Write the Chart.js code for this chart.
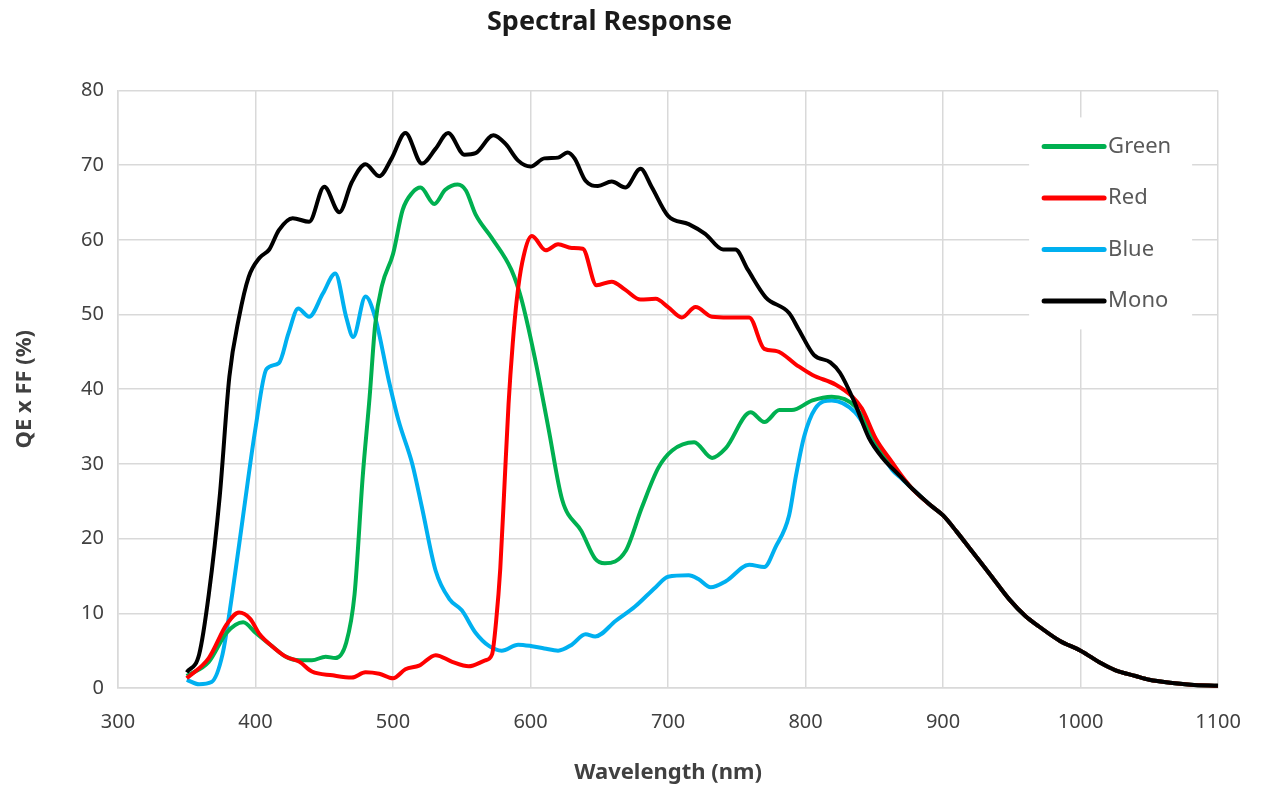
<!DOCTYPE html>
<html>
<head>
<meta charset="utf-8">
<title>Spectral Response</title>
<script src="https://cdn.jsdelivr.net/npm/chart.js@4.4.1/dist/chart.umd.min.js"></script>
<style>
    html, body { margin: 0; padding: 0; background: #fff; }
    #wrap { width: 1263px; height: 793px; }
</style>
</head>
<body>
<div id="wrap"><canvas id="chart" width="1263" height="793"></canvas></div>
<script>
// values (wavelength in nm, QE x FF in %)
const monoX = [350,359,366,374,381,388,395,403,410,417,427,439,450,461,470,480,490,499,509,521,531,540,552,560,573,582,591,600,610,620,627,632,640,649,659,669,680,688,700,715,727,740,749,758,771,788,795,806,818,825,835,846,856,868];
const monoY = [2.1,4.5,12.5,25.7,41.7,49.6,55,57.6,58.7,61.3,62.9,62.4,67.1,63.7,67.7,70.1,68.5,70.9,74.3,70.2,72.2,74.3,71.4,71.6,74,72.8,70.6,69.8,70.9,71,71.7,70.9,67.9,67.2,67.8,67,69.5,67.1,63.2,62.1,60.8,58.7,58.7,56,52.3,50.2,48,44.6,43.6,42.2,38.5,33.5,30.8,28.5];

const greenX = [350,366,379,391,400,412,422,432,441,451,458,466,472,478,483,487,492,500,507,514,520,530,538,547,553,560,572,586,593,603,613,623,637,647,654,669,681,693,703,719,732,742,760,770,781,790,805,819,836,851,863,870];
const greenY = [1.6,3.5,7.4,8.8,7.4,5.6,4.2,3.7,3.7,4.2,4.0,6.1,12.5,28.4,39,48.6,53.9,58.1,64,66.3,67,64.8,66.7,67.4,66.6,63.4,60.2,56,52.3,44.3,34.8,25.2,21,17.3,16.7,18.3,24.2,29.5,31.8,32.9,30.8,32.1,36.9,35.6,37.2,37.2,38.5,39,37.7,33,29.6,28.2];

const redX = [350,366,379,388,396,403,412,422,432,441,456,470,480,490,500,509,519,531,543,555,567,572,575,578,581,584,587,590,594,601,611,620,630,638,648,659,669,680,691,700,710,720,732,744,759,770,779,793,805,822,834,841,851,863,870];
const redY = [1.3,4.0,8.5,10.1,9.3,7.2,5.6,4.2,3.5,2.2,1.7,1.4,2.1,1.9,1.3,2.5,3.0,4.4,3.5,2.9,3.7,4.5,9,16,27,38,46,52,57,60.5,58.6,59.4,58.9,58.8,53.9,54.4,53.3,52,52.1,51,49.6,51,49.7,49.6,49.6,45.4,45.1,43.3,41.9,40.6,39,37.4,33.4,30.2,28.4];

const blueX = [350,359,368,376,383,391,400,408,417,424,431,439,449,458,466,471,480,487,497,504,514,521,531,541,550,560,570,579,591,601,610,620,630,640,647,662,676,691,700,715,722,731,742,759,770,778,788,793,799,807,819,836,851,863,870];
const blueY = [1.1,0.5,0.8,4.5,12.5,23.1,34.8,42.7,43.5,47.5,50.8,49.7,52.8,55.5,49.6,47,52.4,49.6,41.1,35.8,30,24.2,15.7,11.9,10.4,7.4,5.6,5.0,5.8,5.6,5.3,5.0,5.8,7.2,6.9,9.0,10.9,13.5,14.9,15.1,14.6,13.5,14.3,16.5,16.2,18.8,23.1,28.4,33.7,37.4,38.5,36.9,32.6,29.2,28];

// past ~870 nm all four curves lie on top of each other
const tailX = [878,890,900,910,921,935,948,960,970,985,1000,1015,1025,1040,1050,1065,1080,1100];
const tailY = [26.6,24.6,23.1,20.9,18.3,15,11.9,9.6,8.2,6.3,5.0,3.3,2.4,1.6,1.1,0.7,0.45,0.3];

const seriesNames = ["Green", "Red", "Blue", "Mono"];
const seriesColors = ["#00b050", "#ff0000", "#00b0f0", "#000000"];

const yTicks = [0,10,20,30,40,50,60,70,80];
const xTicks = [300,400,500,600,700,800,900,1000,1100];

function points(xs, ys) {
    return xs.concat(tailX).map((x, i) => ({ x: x, y: ys.concat(tailY)[i] }));
}

const legendPlugin = {
    id: "boxLegend",
    afterDraw(chart) {
        const ctx = chart.ctx;
        const area = chart.chartArea;
        const left = area.right - 189;
        const top = area.top + 27;
        ctx.save();
        ctx.fillStyle = "#ffffff";
        ctx.fillRect(left, top, 163, 212);
        ctx.font = "22px 'Noto Sans'";
        ctx.textBaseline = "middle";
        ctx.lineCap = "round";
        seriesNames.forEach((name, i) => {
            const y = top + 29 + i * 51.5;
            ctx.strokeStyle = seriesColors[i];
            ctx.lineWidth = 5;
            ctx.beginPath();
            ctx.moveTo(left + 15, y);
            ctx.lineTo(left + 75, y);
            ctx.stroke();
            ctx.fillStyle = "#595959";
            ctx.fillText(name, left + 79, y);
        });
        ctx.restore();
    }
};

const drawOrder = { Green: 2, Red: 1, Blue: 3, Mono: 0 };
const allX = [greenX, redX, blueX, monoX];
const allY = [greenY, redY, blueY, monoY];

new Chart(document.getElementById("chart"), {
    type: "line",
    data: {
        datasets: seriesNames.map((name, i) => ({
            label: name,
            data: points(allX[i], allY[i]),
            borderColor: seriesColors[i],
            borderWidth: 4,
            pointRadius: 0,
            cubicInterpolationMode: "monotone",
            order: drawOrder[name]
        }))
    },
    options: {
        responsive: false,
        animation: false,
        layout: { padding: { left: 0, right: 44, top: 0, bottom: 0 } },
        plugins: {
            legend: { display: false },
            tooltip: { enabled: false },
            title: {
                display: true,
                text: "Spectral Response",
                color: "#1a1a1a",
                font: { family: "'Noto Sans'", size: 27, weight: "bold" },
                padding: { top: 6, bottom: 52 }
            }
        },
        scales: {
            x: {
                type: "linear",
                min: 300,
                max: 1100,
                afterBuildTicks: scale => { scale.ticks = xTicks.map(v => ({ value: v })); },
                afterFit: scale => { scale.height = 105; },
                grid: { color: "#d9d9d9", lineWidth: 1.5, drawTicks: false },
                border: { color: "#d9d9d9", width: 1.5 },
                ticks: {
                    color: "#404040",
                    font: { family: "'Noto Sans'", size: 20 },
                    padding: 22,
                    callback: v => String(v)
                },
                title: {
                    display: true,
                    text: "Wavelength (nm)",
                    color: "#404040",
                    font: { family: "'Noto Sans'", size: 22, weight: "bold" },
                    padding: { top: 0, bottom: 7 }
                }
            },
            y: {
                min: 0,
                max: 80,
                afterBuildTicks: scale => { scale.ticks = yTicks.map(v => ({ value: v })); },
                afterFit: scale => { scale.width = 118; },
                grid: { color: "#d9d9d9", lineWidth: 1.5, drawTicks: false },
                border: { color: "#d9d9d9", width: 1.5 },
                ticks: {
                    color: "#404040",
                    font: { family: "'Noto Sans'", size: 20 },
                    padding: 14,
                    callback: v => String(v)
                },
                title: {
                    display: true,
                    text: "QE x FF (%)",
                    color: "#404040",
                    font: { family: "'Noto Sans'", size: 22, weight: "bold" },
                    padding: { top: 12, bottom: 0 }
                }
            }
        }
    },
    plugins: [legendPlugin]
});
</script>
</body>
</html>
